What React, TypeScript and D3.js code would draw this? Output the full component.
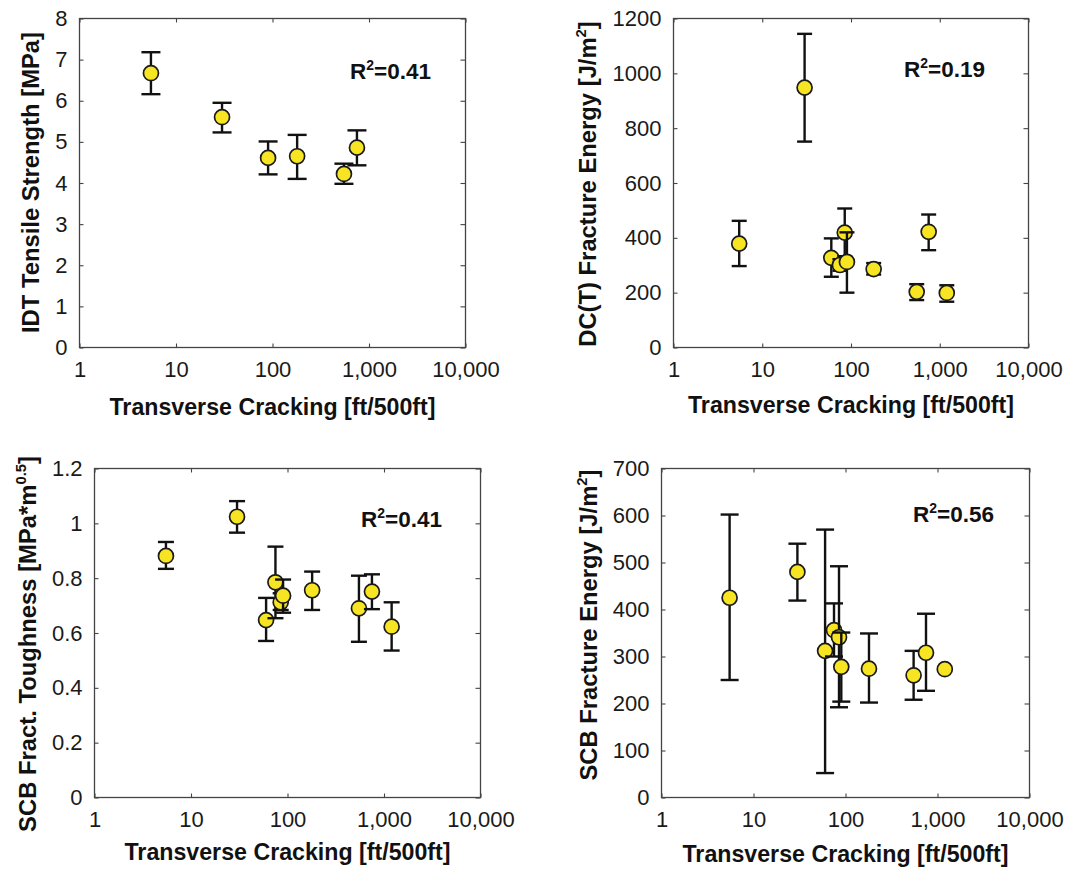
import React, { useEffect, useRef } from 'react';
import * as d3 from 'd3';

// ---- Data ----
const xTickValues = [1, 10, 100, 1000, 10000];
const xTickLabels = ['1', '10', '100', '1,000', '10,000'];

// IDT tensile strength (MPa)
const crackIDT = [5.5, 30, 90, 180, 550, 750];
const idtMean = [6.67, 5.6, 4.61, 4.65, 4.22, 4.86];
const idtLow = [6.16, 5.23, 4.21, 4.1, 3.98, 4.43];
const idtHigh = [7.18, 5.95, 5.01, 5.17, 4.47, 5.28];

// Common cracking values for the other three tests
const crackAll = [5.5, 30, 60, 75, 85, 90, 180, 550, 750, 1200];

// DC(T) fracture energy (J/m2)
const dctMean = [379, 948, 327, 301, 419, 312, 286, 203, 422, 199];
const dctLow = [297, 751, 258, 280, 333, 200, 266, 173, 355, 167];
const dctHigh = [462, 1144, 398, 322, 507, 420, 308, 231, 485, 227];

// SCB fracture toughness (MPa*m^0.5)
const scbKMean = [0.881, 1.024, 0.647, 0.785, 0.712, 0.736, 0.756, 0.69, 0.751, 0.623];
const scbKLow = [0.834, 0.966, 0.571, 0.654, 0.684, 0.674, 0.684, 0.568, 0.687, 0.536];
const scbKHigh = [0.932, 1.081, 0.728, 0.915, 0.745, 0.795, 0.824, 0.809, 0.814, 0.712];

// SCB fracture energy (J/m2)
const scbGMean = [425, 480, 312, 356, 341, 278, 274, 260, 308, 273];
const scbGLow = [250, 419, 52, 300, 192, 204, 202, 208, 227, 273];
const scbGHigh = [602, 540, 570, 413, 492, 351, 349, 312, 391, 273];

const idtYTicks = [0, 1, 2, 3, 4, 5, 6, 7, 8];
const dctYTicks = [0, 200, 400, 600, 800, 1000, 1200];
const scbKYTicks = [0, 0.2, 0.4, 0.6, 0.8, 1, 1.2];
const scbGYTicks = [0, 100, 200, 300, 400, 500, 600, 700];

type Part = { t: string; sup?: boolean };

type Panel = {
  left: number; right: number; top: number; bottom: number;
  yMax: number; yTicks: number[];
  xs: number[]; mean: number[]; low: number[]; high: number[];
  yTitle: Part[]; yTitleX: number; yTitleY: number;
  xTitleY: number;
  r2: string; r2X: number; r2Y: number;
  cap: number;
};

const panels: Panel[] = [
  {
    left: 79.5, right: 465.5, top: 18.5, bottom: 347.5,
    yMax: 8, yTicks: idtYTicks,
    xs: crackIDT, mean: idtMean, low: idtLow, high: idtHigh,
    yTitle: [{ t: 'IDT Tensile Strength [MPa]' }], yTitleX: 38.5, yTitleY: 182.5,
    xTitleY: 415,
    r2: '0.41', r2X: 350, r2Y: 79,
    cap: 9.5,
  },
  {
    left: 673.5, right: 1028.5, top: 18.5, bottom: 347.5,
    yMax: 1200, yTicks: dctYTicks,
    xs: crackAll, mean: dctMean, low: dctLow, high: dctHigh,
    yTitle: [{ t: 'DC(T) Fracture Energy [J/m' }, { t: '2', sup: true }, { t: ']' }], yTitleX: 595.5, yTitleY: 184,
    xTitleY: 413,
    r2: '0.19', r2X: 904, r2Y: 77,
    cap: 7.5,
  },
  {
    left: 94.5, right: 480.5, top: 468.5, bottom: 797.5,
    yMax: 1.2, yTicks: scbKYTicks,
    xs: crackAll, mean: scbKMean, low: scbKLow, high: scbKHigh,
    yTitle: [{ t: 'SCB Fract. Toughness [MPa*m' }, { t: '0.5', sup: true }, { t: ']' }], yTitleX: 35.5, yTitleY: 644,
    xTitleY: 860,
    r2: '0.41', r2X: 361, r2Y: 527,
    cap: 8,
  },
  {
    left: 661.5, right: 1029.5, top: 468.5, bottom: 797.5,
    yMax: 700, yTicks: scbGYTicks,
    xs: crackAll, mean: scbGMean, low: scbGLow, high: scbGHigh,
    yTitle: [{ t: 'SCB Fracture Energy [J/m' }, { t: '2', sup: true }, { t: ']' }], yTitleX: 596.5, yTitleY: 625,
    xTitleY: 862,
    r2: '0.56', r2X: 913, r2Y: 522,
    cap: 9,
  },
];

const FONT = "'Liberation Sans', Arial, Helvetica, sans-serif";
const TICK_FS = 22;
const XTITLE_FS = 23.2;
const YTITLE_FS = 23.8;
const R2_FS = 22.5;
const YELLOW = '#f7e422';

function addParts(text: d3.Selection<SVGTextElement, unknown, null, undefined>, parts: Part[], fs: number) {
  let shifted = false;
  parts.forEach((p) => {
    const ts = text.append('tspan').text(p.t);
    if (p.sup) {
      ts.attr('font-size', fs * 0.62).attr('dy', -fs * 0.42);
      shifted = true;
    } else {
      if (shifted) ts.attr('dy', fs * 0.42);
      shifted = false;
    }
  });
}

function drawPanel(svg: d3.Selection<SVGSVGElement, unknown, null, undefined>, p: Panel) {
  const x = d3.scaleLog().domain([1, 10000]).range([p.left, p.right]);
  const y = d3.scaleLinear().domain([0, p.yMax]).range([p.bottom, p.top]);
  const g = svg.append('g');

  const fmtX = (d: d3.NumberValue) => xTickLabels[xTickValues.indexOf(+d)];
  const fmtY = (d: d3.NumberValue) => String(+(+d).toFixed(2));

  // bottom axis
  const gb = g.append('g').attr('transform', `translate(0,${p.bottom})`)
    .call(d3.axisBottom(x).tickValues(xTickValues).tickFormat(fmtX as any).tickSizeInner(-4).tickSizeOuter(0).tickPadding(14));
  // left axis
  const gl = g.append('g').attr('transform', `translate(${p.left},0)`)
    .call(d3.axisLeft(y).tickValues(p.yTicks).tickFormat(fmtY as any).tickSizeInner(-4).tickSizeOuter(0).tickPadding(12));
  // top axis (ticks only)
  const gt = g.append('g').attr('transform', `translate(0,${p.top})`)
    .call(d3.axisTop(x).tickValues(xTickValues).tickFormat(() => '').tickSizeInner(-4).tickSizeOuter(0));
  // right axis (ticks only)
  const gr = g.append('g').attr('transform', `translate(${p.right},0)`)
    .call(d3.axisRight(y).tickValues(p.yTicks).tickFormat(() => '').tickSizeInner(-5).tickSizeOuter(0));

  [gb, gl, gt, gr].forEach((a) => {
    a.select('.domain').remove();
    a.selectAll('line').attr('stroke', '#444').attr('stroke-width', 1.1);
    a.attr('font-family', FONT).attr('font-size', TICK_FS);
    a.selectAll('text').attr('fill', '#1a1a1a');
  });

  // frame
  g.append('rect')
    .attr('x', p.left).attr('y', p.top)
    .attr('width', p.right - p.left).attr('height', p.bottom - p.top)
    .attr('fill', 'none').attr('stroke', '#444').attr('stroke-width', 1.3);

  // points with error bars
  const pts = g.append('g');
  p.xs.forEach((xv, i) => {
    const cx = x(xv);
    const lo = y(p.low[i]);
    const hi = y(p.high[i]);
    if (Math.abs(lo - hi) > 1) {
      const eb = pts.append('g').attr('stroke', '#111').attr('stroke-width', 2.4).attr('fill', 'none');
      eb.append('line').attr('x1', cx).attr('x2', cx).attr('y1', lo).attr('y2', hi);
      eb.append('line').attr('x1', cx - p.cap).attr('x2', cx + p.cap).attr('y1', lo).attr('y2', lo);
      eb.append('line').attr('x1', cx - p.cap).attr('x2', cx + p.cap).attr('y1', hi).attr('y2', hi);
    }
    pts.append('circle')
      .attr('cx', cx).attr('cy', y(p.mean[i])).attr('r', 7.5)
      .attr('fill', YELLOW).attr('stroke', '#1a1a1a').attr('stroke-width', 1.7);
  });

  // x title
  g.append('text')
    .attr('x', (p.left + p.right) / 2).attr('y', p.xTitleY)
    .attr('text-anchor', 'middle')
    .attr('font-family', FONT).attr('font-weight', 'bold').attr('font-size', XTITLE_FS)
    .attr('fill', '#111')
    .text('Transverse Cracking [ft/500ft]');

  // y title
  const yt = g.append('text')
    .attr('transform', `translate(${p.yTitleX},${p.yTitleY}) rotate(-90)`)
    .attr('text-anchor', 'middle')
    .attr('font-family', FONT).attr('font-weight', 'bold').attr('font-size', YTITLE_FS)
    .attr('fill', '#111');
  addParts(yt, p.yTitle, YTITLE_FS);

  // R^2 annotation
  const rt = g.append('text')
    .attr('x', p.r2X).attr('y', p.r2Y)
    .attr('font-family', FONT).attr('font-weight', 'bold').attr('font-size', R2_FS)
    .attr('fill', '#111');
  addParts(rt, [{ t: 'R' }, { t: '2', sup: true }, { t: '=' + p.r2 }], R2_FS);
}

export default function App() {
  const ref = useRef<SVGSVGElement>(null);
  useEffect(() => {
    if (!ref.current) return;
    const svg = d3.select(ref.current);
    svg.selectAll('*').remove();
    panels.forEach((p) => drawPanel(svg as any, p));
  }, []);
  return (
    <svg
      ref={ref}
      width={1092}
      height={871}
      style={{ position: 'absolute', left: 0, top: 0, background: '#fff' }}
    />
  );
}
